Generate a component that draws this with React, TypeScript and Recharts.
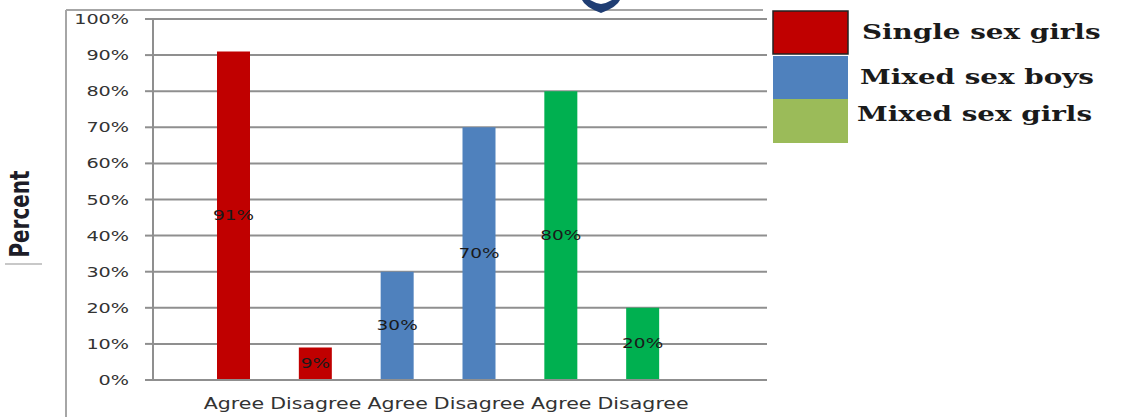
import React from 'react';
import { BarChart, Bar, XAxis, YAxis, CartesianGrid, Cell, LabelList } from 'recharts';

// Survey responses by group
const categories = ['Agree', 'Disagree', 'Agree', 'Disagree', 'Agree', 'Disagree'];
const groups = [
  'Single sex girls',
  'Single sex girls',
  'Mixed sex boys',
  'Mixed sex boys',
  'Mixed sex girls',
  'Mixed sex girls',
];
const percents = [91, 9, 30, 70, 80, 20];
const yTicks = [0, 10, 20, 30, 40, 50, 60, 70, 80, 90, 100];
const legendNames = ['Single sex girls', 'Mixed sex boys', 'Mixed sex girls'];

const BAR_COLORS: Record<string, string> = {
  'Single sex girls': '#C00000',
  'Mixed sex boys': '#4F81BD',
  'Mixed sex girls': '#00B050',
};
const LEGEND_COLORS: Record<string, string> = {
  'Single sex girls': '#C00000',
  'Mixed sex boys': '#4F81BD',
  'Mixed sex girls': '#9BBB59',
};

const data = categories.map((c, i) => ({
  id: `c${i}`,
  category: c,
  group: groups[i],
  value: percents[i],
}));

// text in this chart is drawn wide
const STRETCH = 1.37;
const GRID = '#8f8f8f';

const YTick = (props: any) => {
  const { x, y, payload } = props;
  return (
    <g transform={`translate(${x},${y})`}>
      <text
        transform={`scale(${STRETCH},1)`}
        textAnchor="end"
        dominantBaseline="central"
        fontFamily="DejaVu Sans"
        fontSize={14}
        fill="#333"
      >
        {payload.value}%
      </text>
    </g>
  );
};

const XTick = (props: any) => {
  const { x, y, index } = props;
  return (
    <g transform={`translate(${x},${y})`}>
      <text
        transform={`scale(${STRETCH},1)`}
        textAnchor="middle"
        dy="0.71em"
        fontFamily="DejaVu Sans"
        fontSize={15}
        fill="#333"
      >
        {categories[index]}
      </text>
    </g>
  );
};

const ValueLabel = (props: any) => {
  const { x, y, width, height, value } = props;
  const cx = x + width / 2;
  const cy = y + height / 2;
  return (
    <g transform={`translate(${cx},${cy})`}>
      <text
        transform={`scale(${STRETCH},1)`}
        textAnchor="middle"
        dominantBaseline="central"
        fontFamily="DejaVu Sans"
        fontSize={13.5}
        fill="#1a1a1a"
      >
        {value}%
      </text>
    </g>
  );
};

export default function App() {
  return (
    <div style={{ position: 'absolute', left: 0, top: 0, width: 1121, height: 417, background: '#fff' }}>
      <svg
        width={1121}
        height={417}
        style={{ position: 'absolute', left: 0, top: 0, pointerEvents: 'none' }}
      >
        {/* outer frame edges */}
        <line x1={66} y1={10} x2={66} y2={417} stroke="#a6a6a6" strokeWidth={2} />
        <line x1={66} y1={10} x2={763} y2={10} stroke="#a6a6a6" strokeWidth={2} />
        {/* emblem at the top */}
        <path d="M582 0 Q585 7 601 13 Q617 7 620 0 Z" fill="#1f3d73" />
        <path d="M590 0 Q595 3 601 4 Q607 3 612 0 Z" fill="#fff" />
        {/* axis title */}
        <g transform="translate(29,214) rotate(-90)">
          <text
            transform={`scale(1,${STRETCH})`}
            textAnchor="middle"
            fontFamily="DejaVu Sans"
            fontWeight="bold"
            fontSize={20}
            fill="#1d1d28"
          >
            Percent
          </text>
        </g>
        <line x1={5} y1={264} x2={42} y2={264} stroke="#c8c8c8" strokeWidth={2} />
        {/* legend */}
        {legendNames.map((name, i) => {
          const top = [11, 56, 99][i];
          const h = [43, 43, 44][i];
          const ty = [32, 77, 114][i];
          const tx = [862, 860, 857][i];
          return (
            <g key={name}>
              <rect
                x={773}
                y={top}
                width={75}
                height={h}
                fill={LEGEND_COLORS[name]}
                stroke={i === 0 ? '#222' : 'none'}
                strokeWidth={i === 0 ? 1.5 : 0}
              />
              <g transform={`translate(${tx},${ty})`}>
                <text
                  transform={`scale(1.39,1)`}
                  dominantBaseline="central"
                  fontFamily="DejaVu Serif"
                  fontWeight="bold"
                  fontSize={20}
                  fill="#1a1a1a"
                >
                  {name}
                </text>
              </g>
            </g>
          );
        })}
      </svg>
      <div style={{ position: 'absolute', left: 0, top: 0 }}>
        <BarChart
          width={1121}
          height={417}
          data={data}
          margin={{ top: 19, right: 354, bottom: 0, left: 0 }}
        >
          <CartesianGrid horizontal vertical={false} stroke={GRID} strokeWidth={2} />
          <XAxis
            dataKey="id"
            height={37}
            padding={{ left: 40, right: 83 }}
            axisLine={{ stroke: GRID, strokeWidth: 2 }}
            tickLine={false}
            tickSize={0}
            tickMargin={18}
            tick={<XTick />}
            interval={0}
          />
          <YAxis
            width={153}
            domain={[0, 100]}
            ticks={yTicks}
            interval={0}
            axisLine={{ stroke: GRID, strokeWidth: 2 }}
            tickLine={{ stroke: GRID, strokeWidth: 2 }}
            tickSize={8}
            tickMargin={16}
            tick={<YTick />}
          />
          <Bar dataKey="value" barSize={33} isAnimationActive={false}>
            {data.map((d) => (
              <Cell key={d.id} fill={BAR_COLORS[d.group]} />
            ))}
            <LabelList dataKey="value" content={<ValueLabel />} />
          </Bar>
        </BarChart>
      </div>
    </div>
  );
}
